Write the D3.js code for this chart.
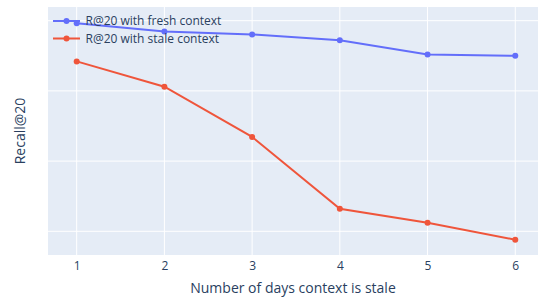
<!DOCTYPE html>
<html><head><meta charset="utf-8">
<script src="https://cdn.jsdelivr.net/npm/d3@7"></script>
<style>body{margin:0;background:#fff}svg{display:block}text{font-family:"Open Sans",sans-serif}</style>
</head><body><svg id="c" width="538" height="297"></svg>
<script>
const days = [1, 2, 3, 4, 5, 6];
const fresh = [0.793, 0.769, 0.761, 0.744, 0.704, 0.700];
const stale = [0.684, 0.612, 0.469, 0.264, 0.2245, 0.176];
const seriesNames = ["R@20 with fresh context", "R@20 with stale context"];
const colors = ["#636efa", "#EF553B"];
const yGrid = [0.2, 0.4, 0.6, 0.8];

const W = 538, H = 297, m = {l: 48, r: 0, t: 7, b: 42};
const svg = d3.select("#c");
const x = d3.scaleLinear().domain([0.673, 6.259]).range([m.l, W - m.r]);
const y = d3.scaleLinear().domain([0.1325, 0.839]).range([H - m.b, m.t]);

svg.append("rect").attr("x", m.l).attr("y", m.t).attr("width", W - m.r - m.l).attr("height", H - m.b - m.t).attr("fill", "#E5ECF6");

const g = svg.append("g");
g.selectAll(".vg").data(days).join("line").attr("x1", d => x(d)).attr("x2", d => x(d)).attr("y1", m.t).attr("y2", H - m.b).attr("stroke", "#fff").attr("stroke-width", 1);
g.selectAll(".hg").data(yGrid).join("line").attr("y1", d => y(d)).attr("y2", d => y(d)).attr("x1", m.l).attr("x2", W - m.r).attr("stroke", "#fff").attr("stroke-width", 1);

const xAxis = d3.axisBottom(x).tickValues(days).tickFormat(d3.format("d")).tickSize(0).tickPadding(6);
const ax = svg.append("g").attr("transform", `translate(0,${H - m.b})`).call(xAxis);
ax.select(".domain").remove();
ax.selectAll("text").attr("font-size", 12).attr("fill", "#2a3f5f").attr("font-family", "'Open Sans',sans-serif");

const line = d3.line().x((d, i) => x(days[i])).y(d => y(d));
[fresh, stale].forEach((s, k) => {
  svg.append("path").datum(s).attr("d", line).attr("fill", "none").attr("stroke", colors[k]).attr("stroke-width", 2);
  svg.selectAll(".p" + k).data(s).join("circle").attr("cx", (d, i) => x(days[i])).attr("cy", d => y(d)).attr("r", 3).attr("fill", colors[k]);
});

// legend
seriesNames.forEach((n, k) => {
  const ly = 21 + k * 17.5;
  svg.append("line").attr("x1", 53).attr("x2", 80).attr("y1", ly).attr("y2", ly).attr("stroke", colors[k]).attr("stroke-width", 2);
  svg.append("circle").attr("cx", 66.5).attr("cy", ly).attr("r", 3).attr("fill", colors[k]);
  svg.append("text").attr("x", 85.5).attr("y", ly).attr("dy", "0.35em").attr("font-size", 12).attr("fill", "#2a3f5f").text(n);
});

svg.append("text").attr("x", (m.l + W - m.r) / 2).attr("y", 288).attr("dy", "0.35em").attr("text-anchor", "middle").attr("font-size", 14).attr("fill", "#2a3f5f").text("Number of days context is stale");
svg.append("text").attr("transform", `translate(20,${(m.t + H - m.b) / 2}) rotate(-90)`).attr("dy", "0.35em").attr("text-anchor", "middle").attr("font-size", 14).attr("fill", "#2a3f5f").text("Recall@20");
</script></body></html>
